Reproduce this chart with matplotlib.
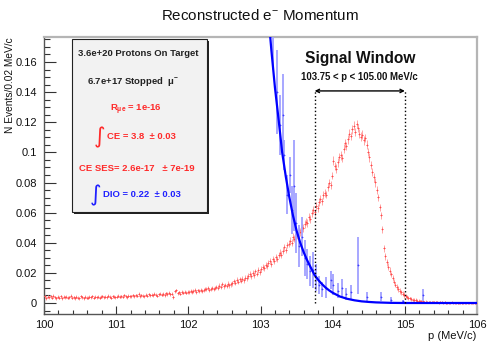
import numpy as np
import matplotlib
matplotlib.use("Agg")
import matplotlib.pyplot as plt
from matplotlib.patches import Rectangle
from matplotlib.ticker import MultipleLocator, FormatStrFormatter

plt.rcParams["font.family"] = ["Liberation Sans", "DejaVu Sans"]
plt.rcParams["mathtext.fontset"] = "custom"
plt.rcParams["mathtext.rm"] = "Liberation Sans"
plt.rcParams["mathtext.it"] = "Liberation Sans:italic"
plt.rcParams["mathtext.bf"] = "Liberation Sans:bold"

# reconstructed momentum histogram, 0.02 MeV/c bins from 100 to 106 MeV/c
bin_width = 0.02
p_low = 100.0

# CE + DIO tail (red), values in units of 1e-3 events per bin, one row = 0.2 MeV/c
ce_milli = [
    4.6, 3.2, 4.1, 3.8, 4.4, 3.5, 4.9, 3.9, 3.3, 4.2,
    3.6, 4.5, 3.1, 4.0, 3.7, 4.3, 3.4, 3.9, 4.8, 3.5,
    3.9, 3.2, 4.1, 3.6, 3.0, 4.4, 3.8, 3.3, 4.0, 3.6,
    3.4, 4.2, 3.7, 4.6, 3.5, 4.0, 3.8, 4.3, 3.6, 4.1,
    4.5, 3.7, 4.2, 3.9, 4.8, 4.0, 3.6, 4.4, 4.1, 3.8,
    4.3, 4.9, 4.0, 4.6, 4.2, 5.1, 4.4, 3.9, 4.7, 4.5,
    4.6, 5.2, 4.4, 5.0, 4.7, 6.1, 4.5, 5.3, 4.9, 4.6,
    5.5, 4.9, 5.8, 5.1, 5.6, 5.0, 6.2, 5.4, 4.8, 5.7,
    6.3, 5.6, 6.0, 5.4, 6.5, 5.9, 6.8, 5.7, 6.1, 3.9,
    7.8, 8.4, 6.5, 7.0, 6.3, 7.3, 6.8, 7.6, 6.9, 7.2,
    7.4, 8.1, 7.2, 7.9, 8.6, 7.5, 8.3, 7.8, 8.8, 8.0,
    8.6, 9.4, 9.0, 9.8, 8.7, 9.5, 10.1, 9.2, 9.9, 10.4,
    10.2, 11.5, 10.8, 12.6, 11.1, 12.0, 11.4, 12.9, 11.7, 12.3,
    13.1, 14.4, 13.6, 15.3, 14.0, 15.7, 14.8, 16.2, 15.0, 16.9,
    16.4, 17.8, 19.2, 18.0, 19.8, 18.6, 21.0, 19.5, 21.8, 20.7,
    22.5, 24.1, 23.0, 25.4, 24.6, 26.8, 27.9, 26.2, 29.0, 28.1,
    30.4, 29.2, 31.8, 33.5, 32.0, 34.7, 36.9, 35.2, 38.6, 39.4,
    41.2, 40.0, 43.8, 42.6, 46.1, 45.0, 48.3, 47.2, 50.5, 49.8,
    52.4, 54.0, 53.1, 57.2, 55.8, 59.6, 61.8, 60.2, 64.5, 63.0,
    66.8, 68.9, 67.4, 71.5, 73.2, 72.0, 76.8, 79.5, 78.2, 84.6,
    94.5, 90.8, 89.2, 93.4, 96.8, 98.0, 96.2, 102.5, 106.0, 104.2,
    108.6, 112.4, 110.9, 115.3, 117.8, 113.6, 118.9, 116.2, 112.5, 110.4,
    111.8, 108.0, 109.5, 105.2, 100.4, 96.6, 91.8, 87.0, 83.4, 80.1,
    75.0, 70.2, 63.5, 58.1, 49.0, 36.2, 31.0, 27.1, 24.0, 21.2,
    19.0, 16.5, 14.1, 12.2, 10.6, 9.2, 8.1, 7.0, 6.2, 5.4,
    4.6, 4.0, 3.5, 3.1, 2.6, 2.3, 2.0, 1.8, 1.5, 1.3,
    1.2, 1.0, 1.1, 0.8, 0.9, 0.7, 0.6, 0.8, 0.5, 0.6,
    0.5, 0.4, 0.6, 0.3, 0.5, 0.4, 0.3, 0.4, 0.2, 0.3,
    0.3, 0.2, 0.4, 0.2, 0.3, 0.2, 0.1, 0.2, 0.3, 0.1,
    0.2, 0.1, 0.2, 0.1, 0.1, 0.2, 0.1, 0.1, 0.0, 0.1,
]
# error size per 0.2 MeV/c row, same units
ce_err_rows_milli = [1.0, 1.0, 1.0, 1.0, 1.0, 1.0, 1.0, 1.0, 1.1, 1.1,
                     1.2, 1.3, 1.5, 1.7, 1.9, 2.0, 2.2, 2.4, 2.5, 2.6,
                     2.8, 2.9, 2.8, 2.4, 1.8, 1.2, 0.8, 0.6, 0.5, 0.4]

# DIO histogram (blue), only the non-empty bins
dio_p = [103.17, 103.23, 103.27, 103.31, 103.33, 103.37, 103.41, 103.43, 103.47,
         103.49, 103.53, 103.57, 103.61, 103.65, 103.69, 103.73, 103.77, 103.81,
         103.85, 103.91, 103.97, 104.01, 104.07, 104.13, 104.19, 104.25, 104.35,
         104.47, 104.67, 104.81, 104.97, 105.25]
dio_v = [0.185, 0.140, 0.118, 0.125, 0.098, 0.072, 0.085, 0.062, 0.078,
         0.053, 0.038, 0.044, 0.030, 0.026, 0.021, 0.022, 0.017, 0.012,
         0.009, 0.010, 0.015, 0.012, 0.008, 0.010, 0.006, 0.007, 0.025,
         0.004, 0.004, 0.002, 0.001, 0.005]
dio_err = [0.030, 0.028, 0.020, 0.027, 0.010, 0.013, 0.012, 0.016, 0.030,
           0.020, 0.014, 0.013, 0.012, 0.010, 0.010, 0.012, 0.009, 0.006,
           0.005, 0.007, 0.006, 0.007, 0.005, 0.006, 0.004, 0.005, 0.019,
           0.003, 0.003, 0.002, 0.001, 0.004]

# DIO fit curve
fit_p = [103.05, 103.10, 103.15, 103.20, 103.25, 103.30, 103.35, 103.40, 103.45,
         103.50, 103.55, 103.60, 103.65, 103.70, 103.75, 103.80, 103.85, 103.90,
         103.95, 104.00, 104.10, 104.20, 104.30, 104.40, 104.50, 104.60, 104.80,
         105.00, 106.00]
fit_v = [0.230, 0.196, 0.168, 0.143, 0.122, 0.100, 0.084, 0.070, 0.058,
         0.048, 0.040, 0.0335, 0.0280, 0.0232, 0.0185, 0.0153, 0.0126, 0.0103,
         0.0084, 0.0068, 0.0043, 0.0028, 0.0018, 0.0011, 0.0007, 0.0004, 0.0001,
         0.0, 0.0]

window_lo, window_hi = 103.75, 105.00

ce_vals = np.array(ce_milli) * 1e-3
ce_err = np.repeat(ce_err_rows_milli, 10) * 1e-3
p_centers = p_low + bin_width * (np.arange(len(ce_vals)) + 0.5)

fig = plt.figure(figsize=(4.87, 3.42), dpi=100)
ax = fig.add_axes([0.0904, 0.0819, 0.8891, 0.8099])

ax.errorbar(p_centers, ce_vals, yerr=ce_err, xerr=bin_width / 2, fmt="+", ms=2, mew=0.5,
            color="#ff4a4a", ecolor="#ffa5a5", elinewidth=0.7, capsize=0, zorder=3)
ax.errorbar(dio_p, dio_v, yerr=dio_err, xerr=bin_width / 2, fmt="+", ms=2, mew=0.5,
            color="#4040ff", ecolor="#a0a0ff", elinewidth=1.3, capsize=0, zorder=4)
ax.plot(fit_p, fit_v, color="#0000ff", lw=1.6, zorder=5)

ax.set_xlim(100, 106)
ax.set_ylim(-0.0073, 0.1766)

# signal window
y_arrow = 0.1408
ax.vlines([window_lo, window_hi], 0, y_arrow, colors="black", linestyles=":", lw=1, zorder=6)
ax.annotate("", xy=(window_lo, y_arrow), xytext=(window_hi, y_arrow),
            arrowprops=dict(arrowstyle="<->", lw=1, color="black", shrinkA=0, shrinkB=0,
                            mutation_scale=6), zorder=6)
x_mid = (window_lo + window_hi) / 2
ax.text(x_mid, 0.162, "Signal Window", ha="center", va="center", fontsize=11.2,
        fontweight="bold", color="#111111")
ax.text(x_mid, 0.150, "%.2f < p < %.2f MeV/c" % (window_lo, window_hi), ha="center",
        va="center", fontsize=6.9, fontweight="bold", color="#111111")

# stats box
bx0, by0, bw, bh = 0.0647, 0.368, 0.3118, 0.625
ax.add_patch(Rectangle((bx0 + 0.0046, by0 - 0.0072), bw, bh, transform=ax.transAxes,
                       facecolor="#222222", edgecolor="none", zorder=7))
ax.add_patch(Rectangle((bx0, by0), bw, bh, transform=ax.transAxes,
                       facecolor="#f2f2f2", edgecolor="#222222", lw=0.8, zorder=8))
red = "#ff2a2a"
blue = "#2020ff"
ax.text(0.217, 0.942, "3.6e+20 Protons On Target", transform=ax.transAxes, ha="center",
        va="center", fontsize=6.8, fontweight="bold", color="#222222", zorder=9)
ax.text(0.2055, 0.838, r"6.7e+17 Stopped  $\mathregular{\mu^{-}}$", transform=ax.transAxes,
        ha="center", va="center", fontsize=6.8, fontweight="bold", color="#222222", zorder=9)
ax.text(0.2125, 0.736, r"R$_{\mathregular{\mu e}}$ = 1e-16", transform=ax.transAxes,
        ha="center", va="center", fontsize=6.8, fontweight="bold", color=red, zorder=9)
ax.text(0.129, 0.636, "\u222b", transform=ax.transAxes, ha="center", va="center",
        fontsize=16, color=red, family="DejaVu Sans", zorder=9)
ax.text(0.1455, 0.639, "CE = 3.8  \u00b1 0.03", transform=ax.transAxes, ha="left",
        va="center", fontsize=6.8, fontweight="bold", color=red, zorder=9)
ax.text(0.2148, 0.527, "CE SES= 2.6e-17   \u00b1 7e-19", transform=ax.transAxes,
        ha="center", va="center", fontsize=6.8, fontweight="bold", color=red, zorder=9)
ax.text(0.118, 0.427, "\u222b", transform=ax.transAxes, ha="center", va="center",
        fontsize=16, color=blue, family="DejaVu Sans", zorder=9)
ax.text(0.136, 0.430, "DIO = 0.22  \u00b1 0.03", transform=ax.transAxes, ha="left",
        va="center", fontsize=6.8, fontweight="bold", color=blue, zorder=9)

# axes styling, ROOT-like
ax.xaxis.set_major_locator(MultipleLocator(1))
ax.xaxis.set_minor_locator(MultipleLocator(0.2))
ax.yaxis.set_major_locator(MultipleLocator(0.02))
ax.yaxis.set_minor_locator(MultipleLocator(0.005))
ax.xaxis.set_major_formatter(FormatStrFormatter("%d"))
ax.yaxis.set_major_formatter(FormatStrFormatter("%g"))
ax.tick_params(axis="both", which="both", direction="in", top=False, right=False,
               colors="#333333", labelcolor="#111111", labelsize=8)
ax.tick_params(axis="y", which="major", length=8.6, width=0.8, pad=5)
ax.tick_params(axis="y", which="minor", length=4.3, width=0.8)
ax.tick_params(axis="x", which="major", length=5.8, width=0.8, pad=4)
ax.tick_params(axis="x", which="minor", length=2.9, width=0.8)
for side in ["left", "bottom"]:
    ax.spines[side].set_color("#555555")
    ax.spines[side].set_linewidth(1.0)
for side in ["top", "right"]:
    ax.spines[side].set_color("#b5b5b5")
    ax.spines[side].set_linewidth(1.6)

fig.text(260 / 487, 1 - 15 / 342, r"Reconstructed e$^{-}$ Momentum", ha="center",
         va="center", fontsize=10.9, color="#111111")
fig.text(10 / 487, 1 - 37 / 342, "N Events/0.02 MeV/c", rotation=90, ha="center",
         va="top", fontsize=7.3, color="#111111")
fig.text(476 / 487, 1 - 336 / 342, "p (MeV/c)", ha="right", va="center", fontsize=8,
         color="#111111")

fig.savefig("out.png", dpi=100)
